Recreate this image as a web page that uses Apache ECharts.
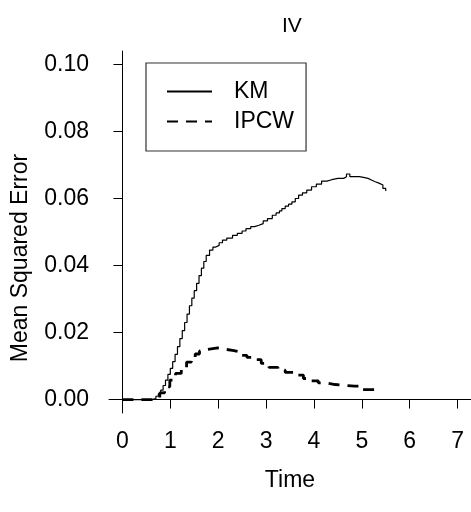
<!DOCTYPE html>
<html>
<head>
<meta charset="utf-8">
<script src="https://cdn.jsdelivr.net/npm/echarts@6/dist/echarts.min.js"></script>
<style>
html,body{margin:0;padding:0;background:#fff;}
#chart{width:471px;height:512px;}
</style>
</head>
<body>
<div id="chart"></div>
<script>
// ---- data ----
const titleText = 'IV';
const xTicks = [0, 1, 2, 3, 4, 5, 6, 7];
const yTicks = [0, 0.02, 0.04, 0.06, 0.08, 0.10];
const seriesNames = ['KM', 'IPCW'];

const kmTime = [0, 0.47, 0.6, 0.7, 0.75, 0.80, 0.85, 0.90, 0.95, 1.00, 1.05, 1.10, 1.15, 1.20, 1.25, 1.30, 1.35, 1.40, 1.45, 1.50, 1.55, 1.60, 1.65, 1.70, 1.75, 1.82, 1.89, 1.95, 2.02, 2.09, 2.18, 2.30, 2.40, 2.50, 2.58, 2.68, 2.76, 2.85, 2.94, 3.03, 3.13, 3.21, 3.28, 3.33, 3.40, 3.47, 3.54, 3.61, 3.68, 3.76, 3.85, 3.95, 4.05, 4.16, 4.27, 4.37, 4.50, 4.62, 4.68, 4.75, 4.85, 4.95, 5.06, 5.13, 5.20, 5.28, 5.37, 5.44, 5.50];
const kmMSE = [0, 0, 0.0003, 0.001, 0.0017, 0.0028, 0.0042, 0.0058, 0.0075, 0.0093, 0.0113, 0.0135, 0.0158, 0.0182, 0.0206, 0.023, 0.0255, 0.028, 0.0303, 0.0325, 0.0347, 0.0370, 0.0392, 0.0412, 0.0430, 0.0446, 0.0455, 0.046, 0.0468, 0.0476, 0.0482, 0.049, 0.0496, 0.0503, 0.051, 0.0516, 0.052, 0.0525, 0.0533, 0.054, 0.055, 0.0557, 0.0563, 0.057, 0.0577, 0.0583, 0.059, 0.060, 0.061, 0.0617, 0.0625, 0.0635, 0.0643, 0.0652, 0.0656, 0.066, 0.066, 0.0665, 0.0673, 0.0665, 0.0665, 0.0662, 0.066, 0.0655, 0.065, 0.0645, 0.064, 0.063, 0.0622];

const ipcwTime = [0, 0.47, 0.62, 0.78, 0.88, 0.99, 1.11, 1.23, 1.34, 1.44, 1.52, 1.61, 1.70, 1.78, 1.99, 2.15, 2.30, 2.47, 2.60, 2.71, 2.90, 3.06, 3.25, 3.40, 3.60, 3.78, 3.95, 4.09, 4.25, 4.44, 4.85, 4.96, 5.27, 5.42];
const ipcwMSE = [0, 0, 0.0005, 0.002, 0.0038, 0.0058, 0.0078, 0.0096, 0.0112, 0.0125, 0.0136, 0.0145, 0.015, 0.0154, 0.015, 0.0147, 0.0142, 0.0132, 0.0126, 0.0119, 0.0108, 0.0096, 0.0088, 0.0081, 0.0073, 0.0063, 0.0056, 0.005, 0.0045, 0.004, 0.004, 0.003, 0.003, 0.003];

const xLabel = 'Time';
const yLabel = 'Mean Squared Error';

// ---- chart ----
const FONT = '"Liberation Sans", Arial, sans-serif';
const FS = 23;
const pair = (xs, ys) => xs.map((x, i) => [x, ys[i]]);
const chart = echarts.init(document.getElementById('chart'), null, {renderer: 'canvas'});
chart.setOption({
  animation: false,
  backgroundColor: '#fff',
  textStyle: {fontFamily: FONT},
  title: {
    text: titleText, left: 277, top: 11,
    textStyle: {fontFamily: FONT, fontSize: 21, fontWeight: 'normal', color: '#000'}
  },
  grid: {left: 109, top: 51, width: 363, height: 362},
  xAxis: {
    type: 'value', min: -0.28, max: 7.28,
    name: xLabel, nameLocation: 'middle', nameGap: 56,
    nameTextStyle: {fontFamily: FONT, fontSize: FS, color: '#000'},
    axisLine: {show: true, lineStyle: {color: '#000', width: 1}},
    axisTick: {show: true, customValues: xTicks, length: 9, lineStyle: {color: '#000'}},
    axisLabel: {customValues: xTicks, margin: 17, fontSize: FS, color: '#000', fontFamily: FONT},
    splitLine: {show: false}
  },
  yAxis: {
    type: 'value', min: -0.004, max: 0.104,
    axisLine: {show: true, lineStyle: {color: '#000', width: 1}},
    axisTick: {show: true, customValues: yTicks, length: 9, lineStyle: {color: '#000'}},
    axisLabel: {customValues: yTicks, margin: 20, fontSize: FS, color: '#000', fontFamily: FONT,
      formatter: v => v.toFixed(2)},
    splitLine: {show: false}
  },
  legend: {
    data: seriesNames, orient: 'vertical', left: 146, top: 63,
    padding: [17, 12, 18, 20], itemWidth: 45, itemHeight: 14, itemGap: 7,
    borderColor: '#333', borderWidth: 1.2, backgroundColor: '#fff',
    itemStyle: {color: 'transparent', borderWidth: 0},
    textStyle: {fontFamily: FONT, fontSize: FS, color: '#000', padding: [0, 0, 0, 17]}
  },
  graphic: [{
    type: 'text', x: 21, y: 258, rotation: Math.PI / 2,
    style: {text: yLabel, font: FS + 'px ' + FONT, fill: '#000', align: 'center', verticalAlign: 'middle'}
  }],
  series: [
    {name: 'KM', type: 'line', step: 'end', symbol: 'none', data: pair(kmTime, kmMSE),
      lineStyle: {color: '#000', width: 1.2}, itemStyle: {color: '#000'}},
    {name: 'IPCW', type: 'line', step: 'end', symbol: 'none', data: pair(ipcwTime, ipcwMSE),
      lineStyle: {color: '#000', width: 2.8, type: [11, 8]}, itemStyle: {color: '#000'}}
  ]
});
</script>
</body>
</html>
